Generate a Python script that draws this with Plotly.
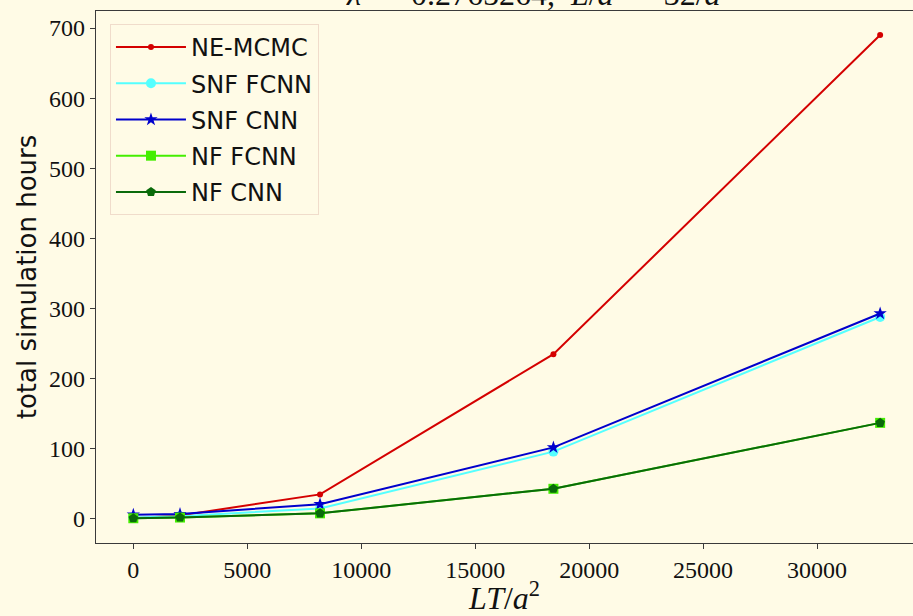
import plotly.graph_objects as go

# Lattice volume LT/a^2 for each run
volume = [0, 2048, 8192, 18432, 32768]

# Total simulation hours per method
ne_mcmc = [1, 5, 35, 235, 690]
snf_fcnn = [2, 4, 15, 96, 288]
snf_cnn = [6, 7, 21, 102, 293]
nf_fcnn = [1, 2, 8, 43, 137]
nf_cnn = [1, 2, 8, 43, 137]

x_ticks = [0, 5000, 10000, 15000, 20000, 25000, 30000]
y_ticks = [0, 100, 200, 300, 400, 500, 600, 700]

BG = "#fffbe6"
SERIF = "Liberation Serif"
SANS = "DejaVu Sans"

series = [
    ("NE-MCMC", ne_mcmc, "#d40000", "circle", 6),
    ("SNF FCNN", snf_fcnn, "#55ffff", "circle", 10),
    ("SNF CNN", snf_cnn, "#0000cc", "star", 10),
    ("NF FCNN", nf_fcnn, "#44ee00", "square", 10),
    ("NF CNN", nf_cnn, "#0a6a0a", "pentagon", 10),
]

fig = go.Figure()
for i, (name, vals, color, symbol, size) in enumerate(series):
    fig.add_trace(go.Scatter(
        x=volume, y=vals, name=name, mode="lines+markers",
        line=dict(color=color, width=2),
        marker=dict(symbol=symbol, size=size, color=color,
                    line=dict(width=0)),
        legendgroup=f"g{i}",
    ))

axis_common = dict(
    showgrid=False, zeroline=False, showline=True,
    linecolor="#3a3a3a", linewidth=1.3,
    ticks="outside", ticklen=5, tickwidth=1.2, tickcolor="#3a3a3a",
    tickfont=dict(family=SERIF, size=24, color="#111111"),
)

fig.update_layout(
    width=913, height=616,
    margin=dict(l=96, r=0, t=11, b=73),
    paper_bgcolor=BG, plot_bgcolor=BG,
    showlegend=True,
    legend=dict(
        x=0.0171, y=0.9756, xanchor="left", yanchor="top",
        bgcolor=BG, bordercolor="#f0dccb", borderwidth=1,
        font=dict(family=SANS, size=24, color="#111111"),
        tracegroupgap=2, itemwidth=70,
    ),
    xaxis=dict(
        **axis_common, mirror=True,
        range=[-1638, 34210],
        tickvals=x_ticks, ticktext=[str(v) for v in x_ticks],
        title=dict(text="<i>LT</i>/<i>a</i><sup>2</sup>",
                   font=dict(family=SERIF, size=32, color="#111111"),
                   standoff=2),
    ),
    yaxis=dict(
        **axis_common,
        range=[-34.3, 724.3],
        tickvals=y_ticks, ticktext=[str(v) for v in y_ticks],
        title=dict(text="total simulation hours",
                   font=dict(family=SANS, size=26, color="#111111"),
                   standoff=4),
    ),
    annotations=[dict(
        text="<i>λ</i>  =  0.2765264,  <i>L</i>/<i>a</i>  =  32/<i>a</i>",
        xref="paper", yref="paper", x=0.536, y=1, xanchor="center",
        yanchor="bottom", yshift=-3, showarrow=False,
        font=dict(family=SERIF, size=32, color="#111111"),
    )],
)

fig.write_html("out.html")
